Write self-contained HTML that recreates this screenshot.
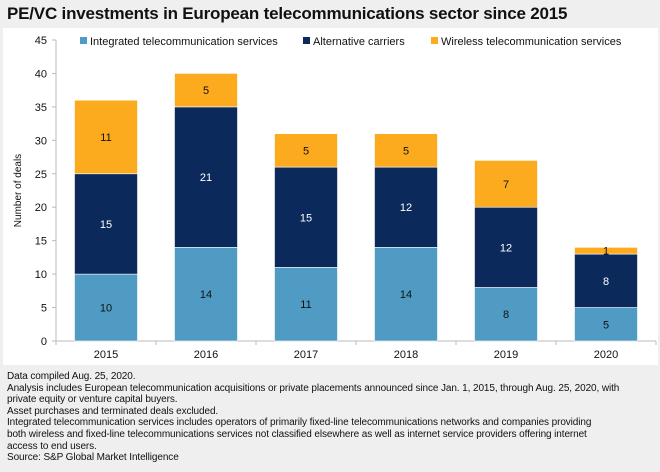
<!DOCTYPE html>
<html><head><meta charset="utf-8"><style>
body{margin:0;width:660px;height:472px;background:#efefef;font-family:"Liberation Sans",sans-serif;overflow:hidden;position:relative}
#title{position:absolute;left:7px;top:4px;font-size:17px;font-weight:bold;color:#111;letter-spacing:-0.2px}
#panel{position:absolute;left:3px;top:28px;width:655px;height:337px;background:#fff}
#notes{position:absolute;left:7px;top:371px;font-size:10px;line-height:11.6px;color:#111;letter-spacing:-0.1px}
</style></head><body>
<div id="title">PE/VC investments in European telecommunications sector since 2015</div>
<div id="panel"></div>
<svg id="chart" width="660" height="472" style="position:absolute;left:0;top:0" font-family="Liberation Sans, sans-serif"></svg>
<div id="notes">Data compiled Aug. 25, 2020.<br>Analysis includes European telecommunication acquisitions or private placements announced since Jan. 1, 2015, through Aug. 25, 2020, with<br>private equity or venture capital buyers.<br>Asset purchases and terminated deals excluded.<br>Integrated telecommunication services includes operators of primarily fixed-line telecommunications networks and companies providing<br>both wireless and fixed-line telecommunications services not classified elsewhere as well as internet service providers offering internet<br>access to end users.<br>Source: S&amp;P Global Market Intelligence</div>
<script>
const categories=["2015","2016","2017","2018","2019","2020"];
const integrated=[10,14,11,14,8,5];
const alternative=[15,21,15,12,12,8];
const wireless=[11,5,5,5,7,1];
const yTicks=[0,5,10,15,20,25,30,35,40,45];
const seriesNames=["Integrated telecommunication services","Alternative carriers","Wireless telecommunication services"];
const colors=["#4f9bc4","#0b2a5b","#fdab1e"];
const labelColors=["#111","#fff","#111"];
const svg=document.getElementById('chart');
const NS="http://www.w3.org/2000/svg";
const X0=56,X1=656,Y0=341,Y1=40,YMAX=45;
const band=(X1-X0)/categories.length,bw=63;
const y=v=>Y0-(v/YMAX)*(Y0-Y1);
const xc=i=>X0+band*(i+0.5);
function mk(tag,attrs,text){const e=document.createElementNS(NS,tag);for(const k in attrs)e.setAttribute(k,attrs[k]);if(text!==undefined)e.textContent=text;svg.appendChild(e);return e;}
let ax=mk('line',{x1:X0,x2:X0,y1:Y1,y2:Y0,stroke:'#bbb'});


let bx=mk('line',{x1:X0,x2:X1,y1:Y0,y2:Y0,stroke:'#bbb'});


yTicks.forEach(t=>{
  mk('line',{x1:X0-4,x2:X0,y1:y(t),y2:y(t),stroke:'#bbb'});
  const l=mk('text',{x:X0-9,y:y(t)+4,'text-anchor':'end','font-size':11,fill:'#111'},t);
  
  
});
for(let i=0;i<=categories.length;i++)mk('line',{x1:X0+band*i,x2:X0+band*i,y1:Y0,y2:Y0+4,stroke:'#bbb'});
const yt=mk('text',{x:0,y:0,'text-anchor':'middle','font-size':10,fill:'#111',transform:`translate(21,${(Y0+Y1)/2}) rotate(-90)`},'Number of deals');


const series=[integrated,alternative,wireless];
categories.forEach((c,i)=>{
  let base=0;
  series.forEach((s,k)=>{
    const v=s[i];
    const r=mk('rect',{x:xc(i)-bw/2,y:y(base+v),width:bw,height:y(base)-y(base+v),fill:colors[k],stroke:'#fff','stroke-width':0.6});
    
    
    const t=mk('text',{x:xc(i),y:(y(base)+y(base+v))/2+4,'text-anchor':'middle','font-size':11,fill:labelColors[k]},v);
    
    
    base+=v;
  });
  const xl=mk('text',{x:xc(i),y:Y0+17,'text-anchor':'middle','font-size':11,fill:'#111'},c);
  
  
});
const legX=[80,303,431];
seriesNames.forEach((n,k)=>{
  const m=mk('rect',{x:legX[k],y:37,width:7,height:7,fill:colors[k]});
  
  
  const t=mk('text',{x:legX[k]+10,y:45,'font-size':11,fill:'#111'},n);
  
  
});
</script>
</body></html>
